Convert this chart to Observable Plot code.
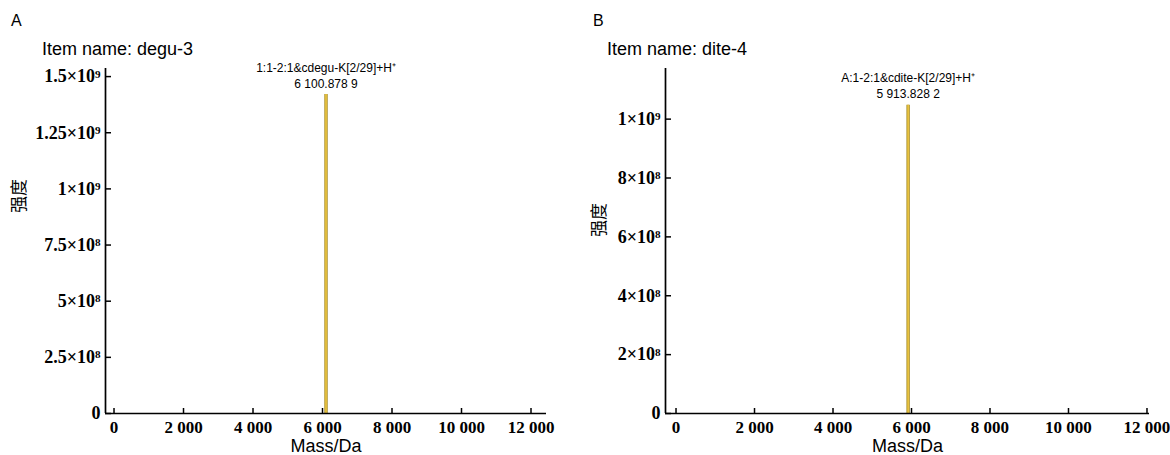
<!DOCTYPE html>
<html><head><meta charset="utf-8">
<script src="https://cdn.jsdelivr.net/npm/d3@7"></script>
<script src="https://cdn.jsdelivr.net/npm/@observablehq/plot@0.6"></script>
<style>
body{margin:0;background:#fff;}
#wrap{position:relative;width:1170px;height:455px;overflow:hidden;font-family:"Liberation Sans",Arial,sans-serif;color:#000;}
.panel{position:absolute;top:0;}
.txt{position:absolute;line-height:1;white-space:nowrap;}
</style></head>
<body><div id="wrap"></div>
<script>
// ---- data ----
const panelLetters = ["A", "B"];
const itemNames = ["Item name: degu-3", "Item name: dite-4"];
const xTicks = [0, 2000, 4000, 6000, 8000, 10000, 12000];
const xTickLabels = ["0", "2 000", "4 000", "6 000", "8 000", "10 000", "12 000"];
const yTicksA = [0, 2.5e8, 5e8, 7.5e8, 1e9, 1.25e9, 1.5e9];
const yTickLabelsA = ["0", "2.5×10⁸", "5×10⁸", "7.5×10⁸", "1×10⁹", "1.25×10⁹", "1.5×10⁹"];
const yTicksB = [0, 2e8, 4e8, 6e8, 8e8, 1e9];
const yTickLabelsB = ["0", "2×10⁸", "4×10⁸", "6×10⁸", "8×10⁸", "1×10⁹"];
const peakMassA = [6100.8789];
const peakIntensityA = [1.42e9];
const peakNameA = ["1:1-2:1&cdegu-K[2/29]+H⁺"];
const peakMassLabelA = ["6 100.878 9"];
const peakMassB = [5913.8282];
const peakIntensityB = [1.047e9];
const peakNameB = ["A:1-2:1&cdite-K[2/29]+H⁺"];
const peakMassLabelB = ["5 913.828 2"];
const xLabel = "Mass/Da";
const yLabel = "强度";

const serif = "'Liberation Serif','Times New Roman',serif";
const sans = "'Liberation Sans',Arial,sans-serif";

function makePanel(cfg) {
  const peaks = cfg.mass.map((m, i) => ({mass: m, intensity: cfg.intensity[i], text: cfg.name[i] + "\n" + cfg.massLabel[i]}));
  const chart = Plot.plot({
    width: 585, height: 455,
    marginLeft: cfg.ml, marginRight: cfg.mr, marginTop: 68, marginBottom: 42,
    x: {domain: cfg.xDomain},
    y: {domain: cfg.yDomain},
    style: {background: "transparent", color: "#000", overflow: "visible"},
    marks: [
      Plot.ruleX(peaks, {x: "mass", y1: 0, y2: "intensity", stroke: "#a88d25", strokeWidth: 3.4}),
      Plot.ruleX(peaks, {x: "mass", y1: 0, y2: "intensity", stroke: "#eec743", strokeWidth: 1.6}),
      Plot.text(peaks, {x: "mass", y: "intensity", text: "text", lineAnchor: "bottom", dy: -7, lineHeight: 1.33, fontSize: 12, fontFamily: sans, fill: "#000"}),
      Plot.axisX({ticks: xTicks, tickFormat: d => xTickLabels[xTicks.indexOf(d)], tickSize: -5, tickPadding: 12, strokeWidth: 1.5, fontSize: 17, fontWeight: "bold", fontFamily: serif, fill: "#000", label: null}),
      Plot.axisY({ticks: cfg.yTicks, tickFormat: d => cfg.yTickLabels[cfg.yTicks.indexOf(d)], tickSize: -6, tickPadding: 11, strokeWidth: 1.5, fontSize: 18, fontWeight: "bold", fontFamily: serif, fill: "#000", label: null}),
      Plot.ruleY([0], {strokeWidth: 1.7}),
      Plot.ruleX([cfg.xDomain[0]], {strokeWidth: 1.7}),
      Plot.text([xLabel], {frameAnchor: "bottom", lineAnchor: "bottom", dy: 38, fontSize: 18, fontFamily: sans, fill: "#000"}),
      Plot.text([yLabel], {frameAnchor: "left", rotate: -90, dx: cfg.ylx, dy: cfg.yly, fontSize: 17, fontFamily: "'Noto Sans CJK SC',sans-serif", fill: "#000"})
    ]
  });
  // superscript exponents
  d3.select(chart).selectAll('g[aria-label="y-axis tick label"] text').each(function() {
    const s = this.textContent;
    const m = s.match(/^(.*)([⁰¹²³⁴⁵⁶⁷⁸⁹]+)$/);
    if (m) {
      const sup = m[2].replace(/./g, c => "⁰¹²³⁴⁵⁶⁷⁸⁹".indexOf(c));
      const t = d3.select(this);
      t.text(m[1]);
      t.append("tspan").attr("dy", "-0.42em").attr("font-size", "0.62em").text(sup);
    }
  });
  return chart;
}

const wrap = document.getElementById("wrap");
const cfgs = [
  {left: 0, ml: 105, mr: 39, xDomain: [-245, 12446], yDomain: [0, 1.536e9], yTicks: yTicksA, yTickLabels: yTickLabelsA,
   mass: peakMassA, intensity: peakIntensityA, name: peakNameA, massLabel: peakMassLabelA, ylx: -86, yly: -28},
  {left: 585, ml: 80, mr: 21, xDomain: [-268, 12064], yDomain: [0, 1.172e9], yTicks: yTicksB, yTickLabels: yTickLabelsB,
   mass: peakMassB, intensity: peakIntensityB, name: peakNameB, massLabel: peakMassLabelB, ylx: -66, yly: -4}
];
cfgs.forEach((cfg, i) => {
  const div = document.createElement("div");
  div.className = "panel";
  div.style.left = cfg.left + "px";
  div.appendChild(makePanel(cfg));
  wrap.appendChild(div);
  const letter = document.createElement("div");
  letter.className = "txt";
  letter.style.cssText = `left:${cfg.left + (i ? 8 : 11)}px;top:13px;font-size:16px;`;
  letter.textContent = panelLetters[i];
  wrap.appendChild(letter);
  const item = document.createElement("div");
  item.className = "txt";
  item.style.cssText = `left:${cfg.left + (i ? 22 : 42)}px;top:40px;font-size:18px;`;
  item.textContent = itemNames[i];
  wrap.appendChild(item);
});
</script>
</body></html>
